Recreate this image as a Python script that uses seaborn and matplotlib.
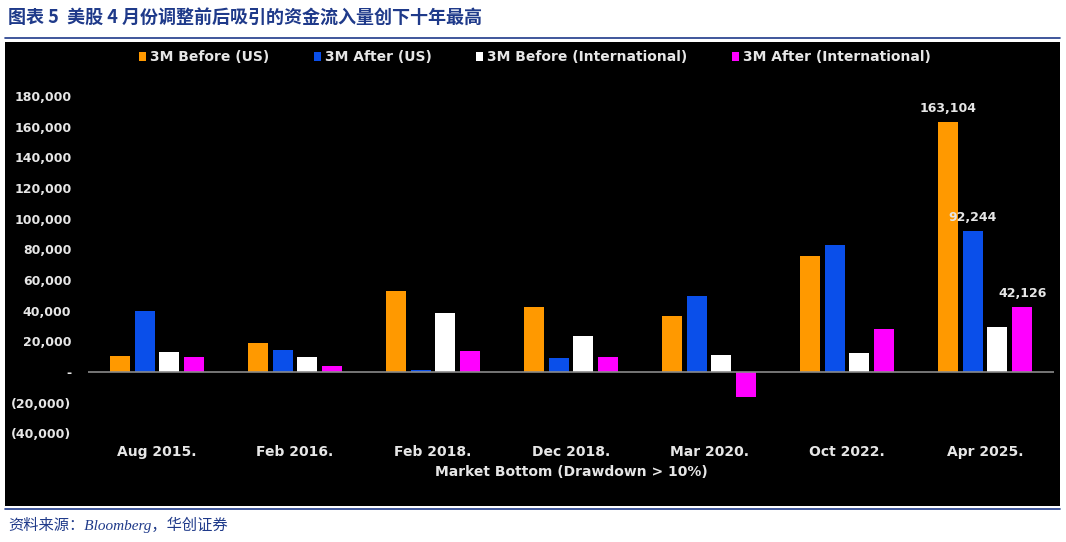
import matplotlib
matplotlib.use("Agg")
import matplotlib.pyplot as plt
import matplotlib.ticker as mticker
from matplotlib.patches import Rectangle
from matplotlib.lines import Line2D
import pandas as pd
import seaborn as sns

# ---- data (USD mn flows) ----
bottoms = ["Aug 2015.", "Feb 2016.", "Feb 2018.", "Dec 2018.", "Mar 2020.", "Oct 2022.", "Apr 2025."]
before_us = [10400, 18900, 52800, 42400, 36500, 75600, 163104]
after_us = [39800, 14300, 1300, 9100, 49600, 82800, 92244]
before_intl = [13000, 9800, 38500, 23500, 11100, 12400, 29300]
after_intl = [9800, 3900, 13700, 9800, -16300, 28000, 42126]

series_names = ["3M Before (US)", "3M After (US)", "3M Before (International)", "3M After (International)"]
series_colors = ["#FF9900", "#0A4FEA", "#FFFFFF", "#FF00FF"]
labelled = {("3M Before (US)", "Apr 2025."), ("3M After (US)", "Apr 2025."), ("3M After (International)", "Apr 2025.")}

title_text = "图表 5  美股 4 月份调整前后吸引的资金流入量创下十年最高"
source_text = "资料来源：Bloomberg，华创证券"

rows = []
for name, vals in zip(series_names, [before_us, after_us, before_intl, after_intl]):
    for b, v in zip(bottoms, vals):
        rows.append({"bottom": b, "series": name, "value": v})
df = pd.DataFrame(rows)

sns.set_theme(style="white")
plt.rcParams["font.family"] = ["DejaVu Sans", "Noto Sans CJK SC"]

fig = plt.figure(figsize=(10.66, 5.42), dpi=100)
fig.patch.set_facecolor("white")

# black chart panel
fig.patches.append(Rectangle((5 / 1066, 1 - 506 / 542), 1055 / 1066, 464 / 542,
                             transform=fig.transFigure, facecolor="black", edgecolor="none", zorder=-5))
# rules under the title and above the source line
navy = "#1F3A8A"
fig.add_artist(Line2D([5 / 1066, 1060 / 1066], [1 - 38 / 542] * 2, transform=fig.transFigure, color=navy, lw=1.2))
fig.add_artist(Line2D([5 / 1066, 1060 / 1066], [1 - 509 / 542] * 2, transform=fig.transFigure, color=navy, lw=1.2))

fig.text(8 / 1066, 1 - 17 / 542, title_text, fontsize=13, fontweight="heavy", color=navy,
         family=["Noto Sans CJK SC", "DejaVu Sans"], va="center", ha="left")
fig.text(8 / 1066, 1 - 525 / 542, source_text, fontsize=11, style="italic", color=navy,
         family=["Liberation Serif", "Noto Sans CJK SC"], va="center", ha="left")

ax = fig.add_axes([88 / 1066, 1 - 441 / 542, 966 / 1066, 360.4 / 542])
ax.set_facecolor("black")
ax.set_zorder(2)

sns.barplot(data=df, x="bottom", y="value", hue="series", order=bottoms, hue_order=series_names,
            palette=series_colors, width=0.72, gap=0.2, saturation=1, errorbar=None, ax=ax, legend=False,
            edgecolor="none", linewidth=0)

ax.set_ylim(-45000, 190000)
ax.set_yticks(range(-40000, 180001, 20000))


def fmt(v, pos):
    if v == 0:
        return "-"
    if v < 0:
        return f"({abs(v):,.0f})"
    return f"{v:,.0f}"


ax.yaxis.set_major_formatter(mticker.FuncFormatter(fmt))
ax.axhline(0, color="#8a8a8a", lw=1.2, zorder=1)
for s in ax.spines.values():
    s.set_visible(False)
ax.tick_params(axis="y", colors="#e6e6e6", labelsize=9, length=0, pad=12)
ax.tick_params(axis="x", colors="#e6e6e6", labelsize=10, length=0, pad=3)
for t in ax.get_yticklabels() + ax.get_xticklabels():
    t.set_fontweight("bold")
ax.set_xlabel("Market Bottom (Drawdown > 10%)", color="#e6e6e6", fontsize=10, fontweight="bold", labelpad=4)
ax.set_ylabel("")

# value labels on the latest episode
for cont, name in zip(ax.containers, series_names):
    for bar, b in zip(cont, bottoms):
        if (name, b) in labelled:
            h = bar.get_height()
            ax.annotate(f"{h:,.0f}", (bar.get_x() + bar.get_width() / 2, h), xytext=(0, 5),
                        textcoords="offset points", ha="center", va="bottom",
                        color="#e6e6e6", fontsize=9, fontweight="bold")

handles = [Rectangle((0, 0), 1, 1, facecolor=c, edgecolor="none") for c in series_colors]
leg = fig.legend(handles, series_names, loc="center", bbox_to_anchor=(535 / 1066, 1 - 57 / 542), ncol=4,
                 frameon=False, fontsize=10, handlelength=0.5, handleheight=0.6, handletextpad=0.3,
                 columnspacing=3.2)
leg.set_zorder(3)
for t in leg.get_texts():
    t.set_color("#e6e6e6")
    t.set_fontweight("bold")

fig.savefig("out.png", dpi=100, facecolor=fig.get_facecolor())
